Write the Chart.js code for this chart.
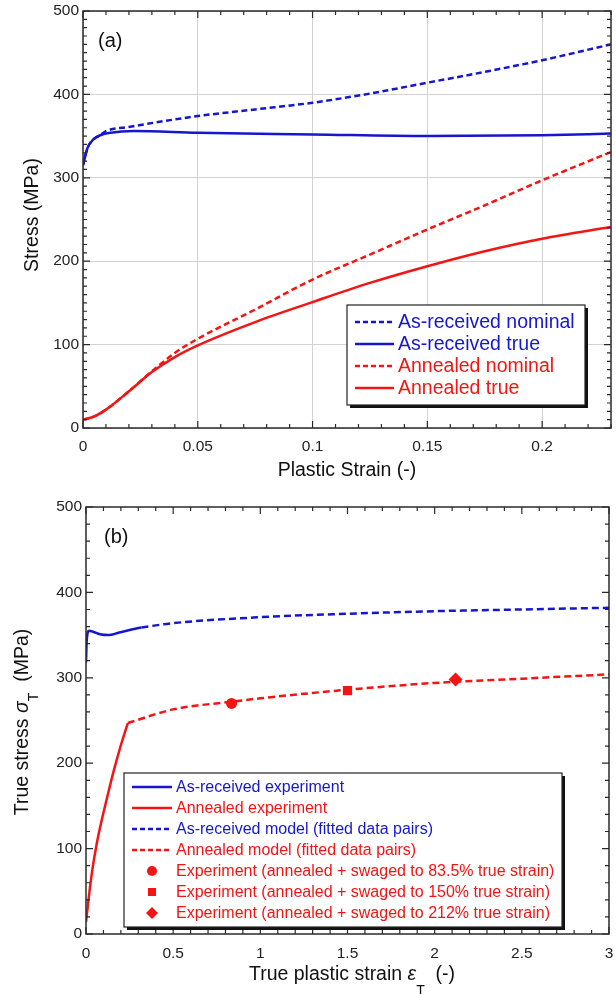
<!DOCTYPE html>
<html>
<head>
<meta charset="utf-8">
<script src="https://cdn.jsdelivr.net/npm/chart.js@4.4.1/dist/chart.umd.min.js"></script>
<style>
  html, body { margin: 0; padding: 0; background: #fff; }
  canvas { display: block; }
</style>
</head>
<body>
<canvas id="chartA" width="616" height="480"></canvas>
<canvas id="chartB" width="616" height="514"></canvas>
<script>
// ---- panel (a): nominal vs true curves ----
const asRecNomX = [0, 0.002, 0.0045, 0.0075, 0.01, 0.02, 0.05, 0.075, 0.1, 0.125, 0.15, 0.175, 0.2, 0.23];
const asRecNomY = [315, 336, 346, 351, 356, 361, 374, 382, 390, 401, 414, 427, 441, 460];
const asRecTrueX = [0, 0.002, 0.0045, 0.0075, 0.012, 0.022, 0.05, 0.1, 0.15, 0.2, 0.23];
const asRecTrueY = [315, 336, 346, 351, 354, 356, 354, 352, 350, 351, 353];
const annNomX = [0, 0.005, 0.01, 0.02, 0.03, 0.04, 0.05, 0.075, 0.1, 0.125, 0.15, 0.175, 0.2, 0.23];
const annNomY = [10, 14, 22, 44, 68, 90, 107, 142, 178, 208, 238, 267, 297, 331];
const annTrueX = [0, 0.005, 0.01, 0.02, 0.03, 0.04, 0.05, 0.075, 0.1, 0.125, 0.15, 0.175, 0.2, 0.23];
const annTrueY = [10, 14, 22, 44, 67, 85, 99, 127, 151, 174, 194, 212, 227, 241];

// ---- panel (b): experiment + fitted model ----
const arExpX = [0, 0.004, 0.017, 0.04, 0.08, 0.13, 0.19, 0.25, 0.318];
const arExpY = [318, 343, 355, 354, 351, 350, 353, 356, 359];
const arModelX = [0.318, 0.5, 1, 1.5, 2, 2.5, 3];
const arModelY = [359, 364, 371, 375, 378, 380, 382];
const annExpX = [0, 0.01, 0.02, 0.04, 0.06, 0.08, 0.1, 0.125, 0.15, 0.175, 0.2, 0.24];
const annExpY = [14, 32, 50, 80, 104, 124, 142, 163, 184, 203, 221, 247];
const annModelX = [0.24, 0.5, 0.835, 1, 1.5, 2, 2.5, 3];
const annModelY = [247, 263, 272, 276, 286, 294, 299, 304];
const swagedX = [0.835, 1.5, 2.12];
const swagedY = [270, 285, 298];
const swagedLabels = [
  "Experiment (annealed + swaged to 83.5% true strain)",
  "Experiment (annealed + swaged to 150% true strain)",
  "Experiment (annealed + swaged to 212% true strain)"
];
const swagedShapes = ["circle", "rect", "rectRot"];

const FONT = '"Liberation Sans", Arial, sans-serif';
const BLUE = "#1616cf";
const RED = "#f41414";

function pts(xs, ys) {
  return xs.map((x, i) => ({ x: x, y: ys[i] }));
}

function curve(label, xs, ys, color, dash) {
  return {
    label: label,
    data: pts(xs, ys),
    borderColor: color,
    backgroundColor: color,
    borderWidth: 2.5,
    borderDash: dash || [],
    pointRadius: 0,
    fill: false,
    cubicInterpolationMode: "monotone"
  };
}

function fmt(v) {
  return String(Math.round(v * 1000) / 1000);
}

// frame + inward ticks on all four sides
const frameTicks = {
  id: "frameTicks",
  afterDraw(chart, args, o) {
    const { ctx, chartArea: a, scales } = chart;
    ctx.save();
    ctx.strokeStyle = "#2a2a2a";
    ctx.lineWidth = 1.2;
    ctx.setLineDash([]);
    function each(scale, step, fn) {
      const n = Math.round((scale.max - scale.min) / step);
      for (let i = 0; i <= n; i++) fn(scale.getPixelForValue(scale.min + i * step));
    }
    ctx.beginPath();
    each(scales.x, o.xMinor, px => {
      ctx.moveTo(px, a.bottom); ctx.lineTo(px, a.bottom - 4);
      ctx.moveTo(px, a.top); ctx.lineTo(px, a.top + 4);
    });
    each(scales.x, o.xMajor, px => {
      ctx.moveTo(px, a.bottom); ctx.lineTo(px, a.bottom - 7);
      ctx.moveTo(px, a.top); ctx.lineTo(px, a.top + 7);
    });
    each(scales.y, o.yMinor, py => {
      ctx.moveTo(a.left, py); ctx.lineTo(a.left + 4, py);
      ctx.moveTo(a.right, py); ctx.lineTo(a.right - 4, py);
    });
    each(scales.y, o.yMajor, py => {
      ctx.moveTo(a.left, py); ctx.lineTo(a.left + 7, py);
      ctx.moveTo(a.right, py); ctx.lineTo(a.right - 7, py);
    });
    ctx.stroke();
    ctx.lineWidth = 1.5;
    ctx.strokeRect(a.left, a.top, a.right - a.left, a.bottom - a.top);
    ctx.restore();
  }
};

function marker(ctx, shape, x, y, r) {
  ctx.beginPath();
  if (shape === "rect") {
    ctx.rect(x - r * 0.8, y - r * 0.8, r * 1.6, r * 1.6);
  } else if (shape === "rectRot") {
    r = r * 1.2;
    ctx.moveTo(x, y - r); ctx.lineTo(x + r, y); ctx.lineTo(x, y + r); ctx.lineTo(x - r, y);
    ctx.closePath();
  } else {
    ctx.arc(x, y, r, 0, Math.PI * 2);
  }
  ctx.fill();
}

// boxed legend with shadow
const legendBox = {
  id: "legendBox",
  afterDraw(chart, args, o) {
    const ctx = chart.ctx;
    ctx.save();
    ctx.fillStyle = "#111";
    ctx.fillRect(o.x + 3, o.y + 3, o.w, o.h);
    ctx.fillStyle = "#fff";
    ctx.fillRect(o.x, o.y, o.w, o.h);
    ctx.strokeStyle = "#222";
    ctx.lineWidth = 1.2;
    ctx.strokeRect(o.x, o.y, o.w, o.h);
    ctx.font = o.size + "px " + FONT;
    ctx.textBaseline = "middle";
    ctx.textAlign = "left";
    chart.data.datasets.forEach((ds, i) => {
      const cy = o.y + o.first + i * o.row;
      const color = ds.borderColor;
      if (ds.showLine === false) {
        ctx.fillStyle = color;
        marker(ctx, ds.pointStyle, o.x + o.mark, cy, 5);
      } else {
        ctx.strokeStyle = color;
        ctx.lineWidth = 2.5;
        ctx.setLineDash(ds.borderDash && ds.borderDash.length ? o.dash : []);
        ctx.beginPath();
        ctx.moveTo(o.x + o.l0, cy);
        ctx.lineTo(o.x + o.l1, cy);
        ctx.stroke();
        ctx.setLineDash([]);
      }
      ctx.fillStyle = color;
      ctx.fillText(ds.label, o.x + o.tx, cy + 1);
    });
    ctx.restore();
  }
};

function drawRuns(ctx, runs, size, cx, base) {
  const fontOf = r => (r.it ? "italic " : "") + (r.sub ? size * 0.72 : size) + "px " + FONT;
  let total = 0;
  runs.forEach(r => { ctx.font = fontOf(r); total += ctx.measureText(r.t).width; });
  let x = cx - total / 2;
  runs.forEach(r => {
    ctx.font = fontOf(r);
    ctx.fillText(r.t, x, base + (r.sub ? size * r.sub : 0));
    x += ctx.measureText(r.t).width;
  });
}

// axis titles and panel tag
const axisTitles = {
  id: "axisTitles",
  afterDraw(chart, args, o) {
    const ctx = chart.ctx;
    ctx.save();
    ctx.fillStyle = "#111";
    ctx.textBaseline = "alphabetic";
    ctx.textAlign = "left";
    drawRuns(ctx, o.xRuns, o.size, o.xc, o.xb);
    ctx.translate(o.yb, o.yc);
    ctx.rotate(-Math.PI / 2);
    drawRuns(ctx, o.yRuns, o.size, 0, 0);
    ctx.restore();
    ctx.save();
    ctx.fillStyle = "#111";
    ctx.font = "20px " + FONT;
    ctx.fillText(o.tag, o.tagX, o.tagY);
    ctx.restore();
  }
};

function axisOpts(min, max, step, extent, isX, pad, grid) {
  return {
    type: "linear",
    min: min,
    max: max,
    afterFit: s => {
      if (isX) { s.height = extent; s.paddingLeft = 0; s.paddingRight = 0; }
      else { s.width = extent; s.paddingTop = 0; s.paddingBottom = 0; }
    },
    ticks: {
      stepSize: step,
      includeBounds: false,
      autoSkip: false,
      maxRotation: 0,
      padding: pad,
      color: "#222",
      font: { family: FONT, size: 15.5 },
      callback: fmt
    },
    grid: { display: grid, color: "#d2d2d2", lineWidth: 1, drawTicks: false },
    border: { display: false }
  };
}

new Chart(document.getElementById("chartA"), {
  type: "line",
  data: {
    datasets: [
      curve("As-received nominal", asRecNomX, asRecNomY, BLUE, [6, 3.5]),
      curve("As-received true", asRecTrueX, asRecTrueY, BLUE),
      curve("Annealed nominal", annNomX, annNomY, RED, [6, 3.5]),
      curve("Annealed true", annTrueX, annTrueY, RED)
    ]
  },
  options: {
    responsive: false,
    animation: false,
    layout: { padding: { top: 11, right: 5, left: 0, bottom: 0 } },
    plugins: {
      legend: { display: false },
      tooltip: { enabled: false },
      frameTicks: { xMajor: 0.05, xMinor: 0.01, yMajor: 100, yMinor: 10 },
      legendBox: { x: 347, y: 305, w: 238, h: 100, first: 17, row: 22, l0: 8, l1: 47, tx: 51, mark: 27, size: 19.5, dash: [5, 3] },
      axisTitles: {
        size: 19.5,
        xRuns: [{ t: "Plastic Strain (-)" }], xc: 347, xb: 476,
        yRuns: [{ t: "Stress (MPa)" }], yb: 38, yc: 215,
        tag: "(a)", tagX: 98, tagY: 47
      }
    },
    scales: {
      x: axisOpts(0, 0.23, 0.05, 52, true, 9, true),
      y: axisOpts(0, 500, 100, 83, false, 4, true)
    }
  },
  plugins: [frameTicks, legendBox, axisTitles]
});

const markerSets = swagedX.map((x, i) => ({
  label: swagedLabels[i],
  data: [{ x: x, y: swagedY[i] }],
  showLine: false,
  borderColor: RED,
  backgroundColor: RED,
  pointBackgroundColor: RED,
  pointBorderWidth: 0,
  pointStyle: swagedShapes[i],
  pointRadius: [5.5, 6.5, 7][i]
}));

new Chart(document.getElementById("chartB"), {
  type: "line",
  data: {
    datasets: [
      curve("As-received experiment", arExpX, arExpY, BLUE),
      curve("Annealed experiment", annExpX, annExpY, RED),
      curve("As-received model (fitted data pairs)", arModelX, arModelY, BLUE, [7, 4]),
      curve("Annealed model (fitted data pairs)", annModelX, annModelY, RED, [7, 4])
    ].concat(markerSets)
  },
  options: {
    responsive: false,
    animation: false,
    layout: { padding: { top: 27, right: 4, left: 0, bottom: 0 } },
    plugins: {
      legend: { display: false },
      tooltip: { enabled: false },
      frameTicks: { xMajor: 0.5, xMinor: 0.1, yMajor: 100, yMinor: 20 },
      legendBox: { x: 124, y: 293, w: 438, h: 154, first: 14, row: 21, l0: 8, l1: 48, tx: 52, mark: 28, size: 16, dash: [5, 3] },
      axisTitles: {
        size: 19.5,
        xRuns: [{ t: "True plastic strain " }, { t: "ε", it: true }, { t: "T", sub: 0.75 }, { t: "  (-)" }], xc: 352, xb: 500,
        yRuns: [{ t: "True stress " }, { t: "σ", it: true }, { t: "T", sub: 0.5 }, { t: "  (MPa)" }], yb: 28, yc: 242,
        tag: "(b)", tagX: 104, tagY: 63
      }
    },
    scales: {
      x: axisOpts(0, 3, 0.5, 60, true, 10, false),
      y: axisOpts(0, 500, 100, 86, false, 4, false)
    }
  },
  plugins: [frameTicks, legendBox, axisTitles]
});
</script>
</body>
</html>
